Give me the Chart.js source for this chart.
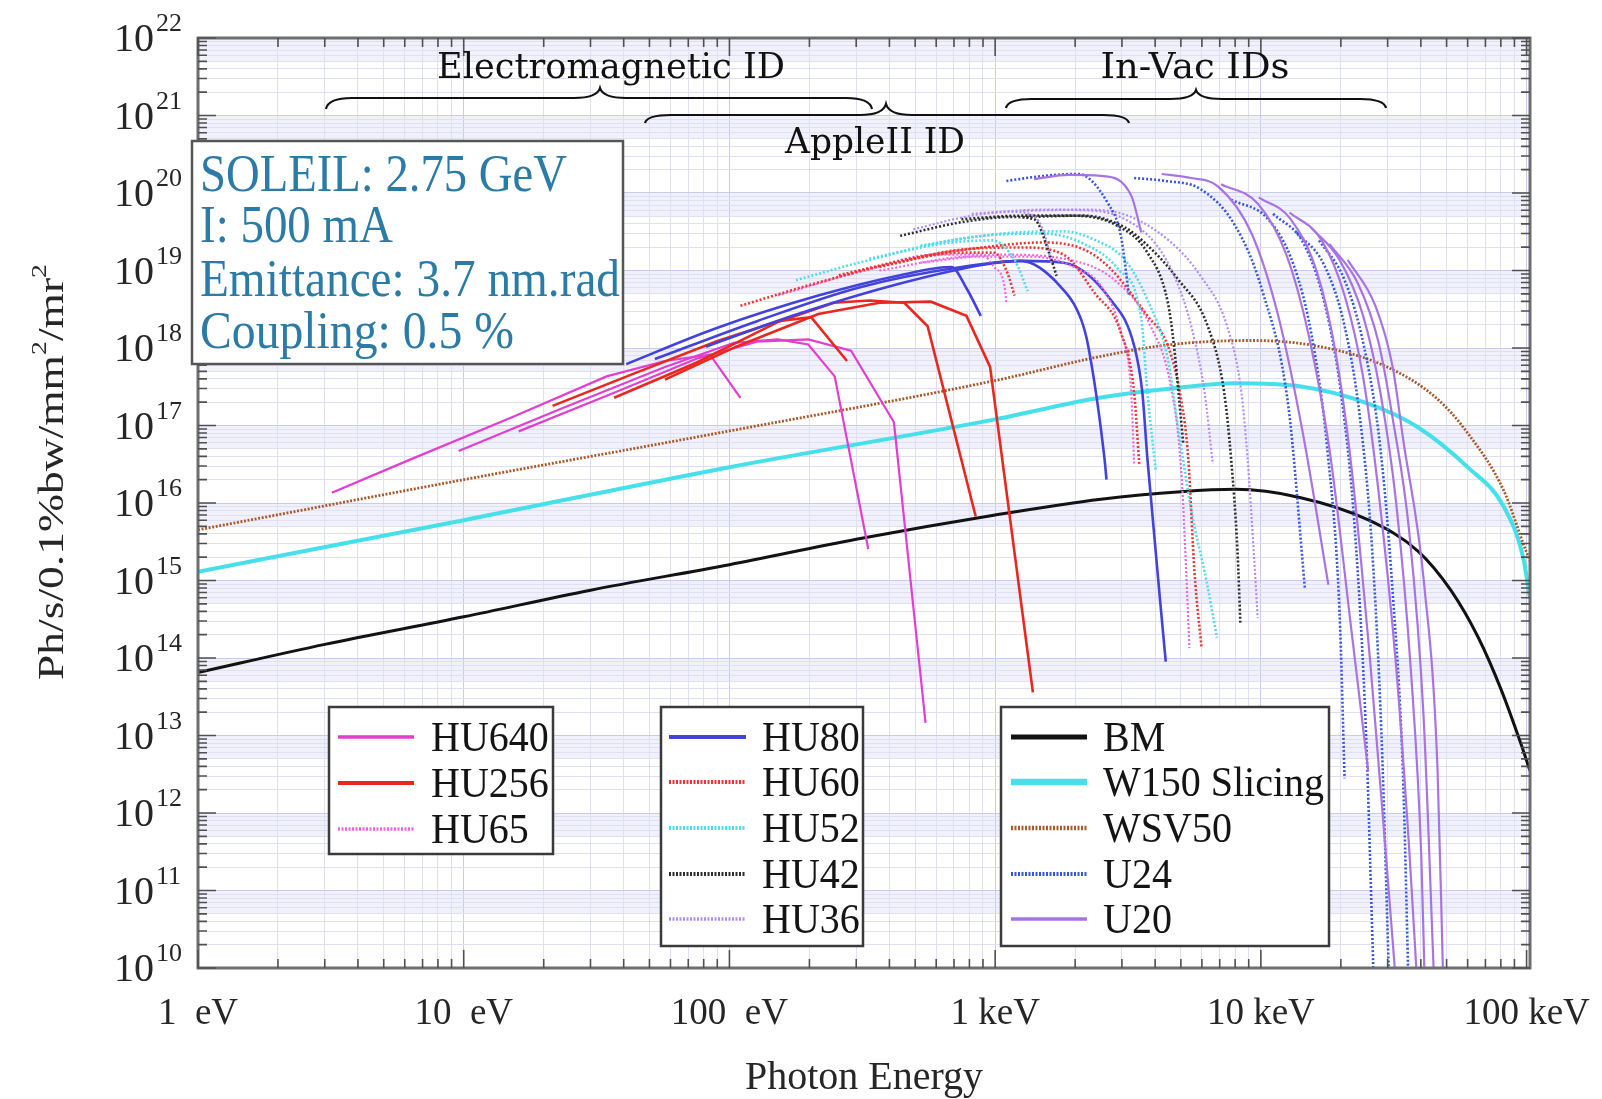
<!DOCTYPE html>
<html><head><meta charset="utf-8">
<script src="https://cdn.jsdelivr.net/npm/chart.js@4.4.1/dist/chart.umd.min.js"></script>
<style>html,body{margin:0;padding:0;background:#fff;}canvas{display:block;}</style>
</head><body>
<canvas id="c" width="1602" height="1099"></canvas>
<script>
// ---------------- DATA (photon energy in eV, brilliance) ----------------
const X_MIN = 1, X_MAX = 1.03e5;
const Y_EXP_MIN = 10, Y_EXP_MAX = 22;
const xTickValues = [1, 10, 100, 1000, 10000, 100000];
const xTickLabels = ['1  eV', '10  eV', '100  eV', '1 keV', '10 keV', '100 keV'];
const yTickExponents = [10,11,12,13,14,15,16,17,18,19,20,21,22];

const BM = [[1,6.5e13],[3,1.5e14],[10,3.4e14],[30,7.5e14],[100,1.6e15],[300,3.4e15],[1000,7e15],[2500,1.12e16],[5000,1.4e16],[8000,1.5e16],[14000,1.18e16],[25500,6e15],[39000,2.4e15],[52000,7.4e14],[66000,1.8e14],[80000,4e13],[95000,8e12],[103000,3.5e12]];
const W150 = [[1,1.3e15],[10,6e15],[100,2.9e16],[1000,1.2e17],[2500,2.3e17],[5000,3.1e17],[8000,3.5e17],[14000,3.2e17],[25500,1.9e17],[39000,9.5e16],[60000,2.9e16],[82000,9e15],[97000,2e15],[103000,6e14]];
const WSV50 = [[1,4.5e15],[10,2e16],[100,8.5e16],[1000,3.8e17],[2500,7.8e17],[4500,1.1e18],[9200,1.25e18],[16500,1.05e18],[29500,5.8e17],[45500,2.3e17],[60000,8e16],[82000,1.45e16],[99500,2.4e15],[103000,1.8e15]];

const HU640 = [
 [[3.19,1.36e16],[6.25,3.6e16],[15.2,1.28e17],[34.5,4.3e17],[57.2,6.8e17],[84.5,8.2e17],[110,2.28e17]],
 [[9.57,4.7e16],[23.6,1.68e17],[57.2,5.7e17],[104,1.17e18],[152,1.29e18],[198,1.11e18],[249,4.3e17],[333,2.55e15]],
 [[16.1,8.4e16],[36.8,2.65e17],[74.7,7.2e17],[127,1.21e18],[198,1.29e18],[287,9.2e17],[416,1.1e17],[547,1.46e13]]
];
const HU256 = [
 [[21.6,1.79e17],[43.9,4.7e17],[89.1,1.21e18],[152,2.22e18],[203,2.5e18],[277,6.8e17]],
 [[36.8,2.28e17],[74.7,6.4e17],[152,2.16e18],[247,3.84e18],[336,4.1e18],[455,3.84e18],[557,1.91e18],[845,6.7e15]],
 [[57.2,3.9e17],[106,1.04e18],[216,2.75e18],[367,3.84e18],[573,3.96e18],[780,2.6e18],[957,5.7e17],[1387,3.6e13]]
];
const HU65 = [
 [[152,4.75e18],[336,1.05e19],[588,1.6e19],[891,1.6e19],[991,1.11e19],[1083,6.4e18],[1102,3.84e18]],
 [[367,1e19],[816,1.51e19],[1387,1.51e19],[1977,1.11e19],[2512,6.2e18],[2972,1.59e18],[3251,2.65e17],[3335,3.2e16]],
 [[524,1.26e19],[1064,1.6e19],[1811,1.42e19],[2818,7.5e18],[3846,1.91e18],[4592,3.1e17],[5012,2.7e16],[5236,1.31e15],[5383,1.34e14]]
];
const HU80 = [
 [[40.9,6.2e17],[89.1,1.8e18],[216,4.75e18],[439,8.7e18],[684,1.11e19],[780,5.9e18],[883,2.6e18]],
 [[52.4,7.2e17],[127,2.22e18],[308,6.05e18],[746,1.11e19],[1270,1.33e19],[1811,1.26e19],[2721,4.2e18],[3335,1.07e18],[3581,2.65e17],[3741,3.7e16],[4385,9e13]],
 [[81.6,1.04e18],[181,2.75e18],[439,6.8e18],[891,1.18e19],[1248,1.33e19],[1762,6.2e18],[2104,2.36e18],[2239,1.07e18],[2580,3.7e16],[2624,2e16]]
];
const HU60 = [
 [[110,3.5e18],[216,7e18],[439,1.29e19],[746,1.7e19],[991,1.7e19],[1112,9.3e18],[1183,4.75e18]],
 [[258,8.7e18],[524,1.51e19],[891,1.98e19],[1517,2.3e19],[2162,1.86e19],[2721,1.05e19],[3741,2.6e18],[4467,1.07e18],[5012,2.15e17],[5333,3.7e16],[5623,1.31e15],[5984,1.34e14]],
 [[367,1.11e19],[746,1.86e19],[1270,1.98e19],[1811,1.6e19],[2360,5.2e18],[2972,1.59e18],[3335,2.65e17],[3485,3.2e16]]
];
const HU52 = [
 [[178,7.5e18],[336,1.37e19],[625,2.2e19],[973,2.45e19],[1183,1.37e19],[1327,5.4e18]],
 [[336,1.42e19],[816,2.7e19],[1517,3e19],[2162,2.2e19],[2897,1.05e19],[3548,2.36e18],[3741,2.65e17],[4018,2.7e16]],
 [[524,2.1e19],[1064,3e19],[1811,3.2e19],[2360,2.5e19],[3077,1.37e19],[3741,4.2e18],[4467,7.2e17],[4877,9.8e16],[5471,8.1e15],[6252,9.6e14],[6839,1.82e14]]
];
const HU42 = [
 [[439,2.8e19],[746,4.2e19],[1161,4.9e19],[1400,4.6e19],[1629,1.37e19],[1702,8.5e18]],
 [[746,4.6e19],[1270,5.1e19],[1977,5.1e19],[2897,3.75e19],[3741,1.7e19],[4467,3.84e18],[4710,1.07e18],[4920,2.28e17],[5105,5.8e16]],
 [[1270,4.9e19],[2162,5.1e19],[3077,3.6e19],[3646,2.3e19],[4877,7.7e18],[6310,1.91e18],[7278,2.65e17],[7727,3.7e16],[8166,2.4e15],[8375,2.7e14]]
];
const HU36 = [
 [[492,3.4e19],[816,5.1e19],[1161,5.7e19],[1387,5.1e19],[1543,2.8e19],[1629,1.18e19]],
 [[816,5.4e19],[1517,6.1e19],[2360,5.9e19],[3077,4.6e19],[4018,2.2e19],[4797,7.5e18],[5471,1.91e18],[6141,2.65e17],[6592,3.2e16]],
 [[1270,5.9e19],[2162,6.1e19],[2897,5.6e19],[4467,2.5e19],[5930,8.5e18],[7464,1.91e18],[8451,2.65e17],[8913,3.7e16],[9397,2.4e15],[9727,3.3e14]]
];
const U24 = [
 [[1102,1.43e20],[1517,1.66e20],[2051,1.76e20],[2649,7.5e19],[2972,2.8e19],[3190,4.75e18]],
 [[3335,1.56e20],[4385,1.43e20],[5930,1.12e20],[8017,3.75e19],[10090,5.7e18],[12700,1.73e17],[14640,8e14]],
 [[7727,8.2e19],[10640,4.6e19],[13280,1.18e19],[15550,1.41e18],[17780,5e16],[19770,3.9e14],[20660,2.8e12]],
 [[11120,5.4e19],[14510,2.2e19],[17460,3.5e18],[20140,2.28e17],[22590,4.4e15],[24890,1.01e13],[26490,1e10]],
 [[13640,3.1e19],[17300,1.18e19],[20660,1.91e18],[23610,1.24e17],[26250,2.4e15],[28440,1.01e13],[30270,1e10]],
 [[16560,2.45e19],[20660,7.5e18],[24450,1.04e18],[28180,5e16],[31330,7.1e14],[34280,3e12],[35810,1e10]]
];
const U20 = [
 [[1400,1.51e20],[1892,1.71e20],[2512,1.66e20],[3251,9.3e19],[3548,3.1e19]],
 [[4236,1.76e20],[5471,1.56e20],[6890,1.22e20],[9226,3e19],[11620,2.6e18],[14510,6.8e16],[17950,8.8e14]],
 [[7079,1.3e20],[9727,7.3e19],[12470,1.6e19],[15170,1.41e18],[18110,5e16],[21980,2.1e14],[25350,3.5e12]],
 [[9817,8.8e19],[12940,4.6e19],[16290,9.3e18],[19090,8.9e17],[21980,2.7e16],[25820,8.5e13],[29190,4.9e11],[31910,1e10]],
 [[12820,5.6e19],[16870,2.5e19],[20660,4.75e18],[24260,4.2e17],[27670,1.48e16],[32210,8.5e13],[36130,3.6e11],[38450,1e10]],
 [[15420,3.6e19],[19770,1.37e19],[24260,2.6e18],[28180,2.65e17],[32210,1.09e16],[36760,6.3e13],[40170,2.65e11],[41220,1e10]],
 [[18110,2.2e19],[23190,6.8e18],[27670,1.21e18],[31330,1.24e17],[36130,4.4e15],[40920,1.86e13],[44670,1e10]],
 [[21230,1.37e19],[26980,3.5e18],[31330,5.7e17],[34280,6.8e16],[41220,8.55e14],[46240,3.5e12],[48400,1e10]]
];

const legendGroup1 = ['HU640', 'HU256', 'HU65'];
const legendGroup2 = ['HU80', 'HU60', 'HU52', 'HU42', 'HU36'];
const legendGroup3 = ['BM', 'W150', 'WSV50', 'U24', 'U20'];
const legendNames = {W150: 'W150 Slicing'};
const infoLines = ['SOLEIL: 2.75 GeV', 'I: 500 mA', 'Emittance: 3.7 nm.rad', 'Coupling: 0.5 %'];

// ---------------- STYLES ----------------
const STYLE = {
  HU640: {color:'#e23ed0', width:2.2, dash:[]},
  HU256: {color:'#e8281e', width:2.6, dash:[]},
  HU65:  {color:'#f066dc', width:2.2, dash:[2,2]},
  HU80:  {color:'#4242dc', width:2.6, dash:[]},
  HU60:  {color:'#ee3434', width:2.6, dash:[2,2]},
  HU52:  {color:'#52dde8', width:2.6, dash:[2,2]},
  HU42:  {color:'#2e2e2e', width:2.6, dash:[2,2]},
  HU36:  {color:'#b48cf0', width:2.2, dash:[2,2]},
  BM:    {color:'#121212', width:3, dash:[]},
  W150:  {color:'#46e0ea', width:4, dash:[]},
  WSV50: {color:'#a85a2a', width:2.8, dash:[2,1.6]},
  U24:   {color:'#3456e2', width:2.6, dash:[2,2]},
  U20:   {color:'#a874e4', width:2.2, dash:[]}
};

const datasets = [];
function addCurves(curves, key, smooth) {
  const st = STYLE[key];
  curves.forEach(c => datasets.push({
    label: key,
    data: c.map(p => ({x: p[0], y: p[1]})),
    showLine: true, borderColor: st.color, borderWidth: st.width, borderDash: st.dash,
    pointRadius: 0, pointHoverRadius: 0, fill: false, tension: 0,
    cubicInterpolationMode: smooth ? 'monotone' : 'default'
  }));
}
addCurves(U20, 'U20', true);
addCurves(U24, 'U24', true);
addCurves(HU36, 'HU36', true);
addCurves(HU42, 'HU42', true);
addCurves(HU52, 'HU52', true);
addCurves(HU60, 'HU60', true);
addCurves(HU65, 'HU65', true);
addCurves(HU80, 'HU80', true);
addCurves(HU256, 'HU256', false);
addCurves(HU640, 'HU640', false);
addCurves([WSV50], 'WSV50', true);
addCurves([W150], 'W150', true);
addCurves([BM], 'BM', true);

function isPow10(v) { const l = Math.log10(v); return Math.abs(l - Math.round(l)) < 1e-6; }
function logTicks(e0, e1, maxVal) {
  const t = [];
  for (let e = e0; e < e1; e++) for (let m = 1; m < 10; m++) t.push(m * Math.pow(10, e));
  t.push(Math.pow(10, e1));
  return t.filter(v => v <= maxVal * 1.000001);
}
const gridColor = c => (c.tick && isPow10(c.tick.value)) ? '#cacaee' : '#e0e0f5';

// ---------------- DRAW HELPERS ----------------
function fitText(ctx, str, x, y, font, opts) {
  opts = opts || {};
  ctx.save();
  ctx.font = font;
  const w = ctx.measureText(str).width;
  const sx = opts.width ? opts.width / w : 1;
  const sy = opts.sy || 1;
  let left = x;
  if (opts.align === 'center') left = x - w * sx / 2;
  else if (opts.align === 'right') left = x - w * sx;
  ctx.translate(left, y);
  ctx.scale(sx, sy);
  ctx.textAlign = 'left';
  ctx.textBaseline = 'alphabetic';
  ctx.fillStyle = opts.color || '#1a1a1a';
  ctx.fillText(str, 0, 0);
  ctx.restore();
}
function brace(ctx, x0, x1, yLine, yEnd, xc, yCusp) {
  const r = 26;
  ctx.beginPath();
  ctx.moveTo(x0, yEnd);
  ctx.quadraticCurveTo(x0 + 2, yLine, x0 + r, yLine);
  ctx.lineTo(xc - r, yLine);
  ctx.quadraticCurveTo(xc - 3, yLine, xc, yCusp);
  ctx.quadraticCurveTo(xc + 3, yLine, xc + r, yLine);
  ctx.lineTo(x1 - r, yLine);
  ctx.quadraticCurveTo(x1 - 2, yLine, x1, yEnd);
  ctx.stroke();
}
function legendBox(ctx, keys, x0, y0, x1, y1, rows, sx0, sx1, tx) {
  ctx.save();
  ctx.fillStyle = '#ffffff';
  ctx.fillRect(x0, y0, x1 - x0, y1 - y0);
  ctx.strokeStyle = '#3a3a3a';
  ctx.lineWidth = 2.5;
  ctx.strokeRect(x0, y0, x1 - x0, y1 - y0);
  keys.forEach((k, i) => {
    const st = STYLE[k];
    const yy = rows[i];
    ctx.save();
    ctx.strokeStyle = st.color;
    ctx.lineWidth = Math.max(st.width * 1.6, 3.5);
    ctx.setLineDash(st.dash.length ? [2, 1.5] : []);
    ctx.beginPath(); ctx.moveTo(sx0, yy); ctx.lineTo(sx1, yy); ctx.stroke();
    ctx.restore();
    fitText(ctx, legendNames[k] || k, tx, yy + 14, '40px "Liberation Serif"', {sy: 1.08, color: '#141414'});
  });
  ctx.restore();
}

const deco = {
  id: 'deco',
  beforeDraw(chart) {
    const {ctx, chartArea: a, scales: {y}} = chart;
    ctx.save();
    ctx.fillStyle = '#ffffff';
    ctx.fillRect(0, 0, chart.width, chart.height);
    ctx.fillStyle = '#f1f1fb';
    for (let n = Y_EXP_MIN; n < Y_EXP_MAX; n++) {
      const yt = y.getPixelForValue(Math.pow(10, n + 1));
      const yb = y.getPixelForValue(Math.pow(10, n + 0.7));
      ctx.fillRect(a.left, yt, a.right - a.left, yb - yt);
    }
    ctx.restore();
  },
  afterDraw(chart) {
    const {ctx, chartArea: a, scales: {x, y}} = chart;
    ctx.save();
    // frame
    ctx.strokeStyle = '#6e6e6e';
    ctx.lineWidth = 3;
    ctx.strokeRect(a.left, a.top, a.right - a.left, a.bottom - a.top);
    // ticks
    ctx.strokeStyle = '#505050';
    ctx.lineWidth = 1.6;
    logTicks(0, 5, X_MAX).forEach(v => {
      const px = x.getPixelForValue(v);
      const len = isPow10(v) ? 18 : 9;
      ctx.beginPath();
      ctx.moveTo(px, a.bottom); ctx.lineTo(px, a.bottom - len);
      ctx.moveTo(px, a.top); ctx.lineTo(px, a.top + len);
      ctx.stroke();
    });
    logTicks(Y_EXP_MIN, Y_EXP_MAX, 1e22).forEach(v => {
      const py = y.getPixelForValue(v);
      const len = isPow10(v) ? 18 : 9;
      ctx.beginPath();
      ctx.moveTo(a.left, py); ctx.lineTo(a.left + len, py);
      ctx.moveTo(a.right, py); ctx.lineTo(a.right - len, py);
      ctx.stroke();
    });
    // y tick labels
    yTickExponents.forEach(n => {
      const py = y.getPixelForValue(Math.pow(10, n));
      fitText(ctx, '10', 154, py + 13, '40px "Liberation Serif"', {align: 'right', color: '#262626'});
      fitText(ctx, String(n), 156, py - 7, '26px "Liberation Serif"', {color: '#262626'});
    });
    // x tick labels
    xTickValues.forEach((v, i) => {
      const px = x.getPixelForValue(v);
      fitText(ctx, xTickLabels[i], px, 1024, '37px "Liberation Serif"', {align: 'center', color: '#262626'});
    });
    // axis titles
    fitText(ctx, 'Photon Energy', 864, 1089, '40px "Liberation Serif"', {align: 'center', color: '#262626'});
    ctx.save();
    ctx.translate(63, 472);
    ctx.rotate(-Math.PI / 2);
    const parts = [['Ph/s/0.1%bw/mm', 36, 0], ['2', 22, -17], ['/mr', 36, 0], ['2', 22, -17]];
    let tot = 0;
    parts.forEach(p => { ctx.font = p[1] + 'px "Liberation Serif"'; tot += ctx.measureText(p[0]).width; });
    const s = 416 / tot;
    ctx.scale(s, 1);
    let cur = -tot / 2;
    ctx.fillStyle = '#262626';
    parts.forEach(p => { ctx.font = p[1] + 'px "Liberation Serif"'; ctx.fillText(p[0], cur, p[2]); cur += ctx.measureText(p[0]).width; });
    ctx.restore();
    // info box
    ctx.fillStyle = '#ffffff';
    ctx.fillRect(192, 141, 431, 223);
    ctx.strokeStyle = '#555555';
    ctx.lineWidth = 2.5;
    ctx.strokeRect(192, 141, 431, 223);
    const infoBase = [191, 242, 296, 348];
    const infoW = [367, 193, 420, 314];
    infoLines.forEach((t, i) => fitText(ctx, t, 200, infoBase[i], '47px "Liberation Serif"', {width: infoW[i], sy: 1.12, color: '#2c7ba6'}));
    // braces and region names
    ctx.strokeStyle = '#111';
    ctx.lineWidth = 2.2;
    brace(ctx, 326, 872, 98, 109, 600, 88);
    brace(ctx, 645, 1129, 115, 123, 886, 104);
    brace(ctx, 1006, 1386, 99, 108, 1196, 90);
    fitText(ctx, 'Electromagnetic ID', 611, 78, '36px "DejaVu Serif"', {align: 'center', width: 348, color: '#111'});
    fitText(ctx, 'In-Vac IDs', 1195, 78, '36px "DejaVu Serif"', {align: 'center', width: 189, color: '#111'});
    fitText(ctx, 'AppleII ID', 875, 153, '36px "DejaVu Serif"', {align: 'center', width: 180, color: '#111'});
    // legends
    legendBox(ctx, legendGroup1, 329, 707, 553, 854, [737, 783, 829], 338, 414, 431);
    legendBox(ctx, legendGroup2, 661, 707, 863, 946, [737, 782, 828, 874, 919], 669, 746, 762);
    legendBox(ctx, legendGroup3, 1001, 707, 1329, 946, [737, 782, 828, 874, 919], 1011, 1087, 1103);
    ctx.restore();
  }
};

new Chart(document.getElementById('c'), {
  type: 'scatter',
  data: {datasets},
  options: {
    responsive: false, animation: false, devicePixelRatio: 1, events: [],
    layout: {padding: {left: 198, top: 38, right: 72, bottom: 131}},
    plugins: {legend: {display: false}, tooltip: {enabled: false}},
    scales: {
      x: {
        type: 'logarithmic', min: X_MIN, max: X_MAX,
        afterBuildTicks: s => { s.ticks = logTicks(0, 5, X_MAX).map(v => ({value: v})); },
        ticks: {display: false},
        grid: {color: gridColor, lineWidth: 1, drawTicks: false},
        border: {display: false}
      },
      y: {
        type: 'logarithmic', min: Math.pow(10, Y_EXP_MIN), max: Math.pow(10, Y_EXP_MAX),
        afterBuildTicks: s => { s.ticks = logTicks(Y_EXP_MIN, Y_EXP_MAX, 1e22).map(v => ({value: v})); },
        ticks: {display: false},
        grid: {color: gridColor, lineWidth: 1, drawTicks: false},
        border: {display: false}
      }
    }
  },
  plugins: [deco]
});
</script>
</body></html>
